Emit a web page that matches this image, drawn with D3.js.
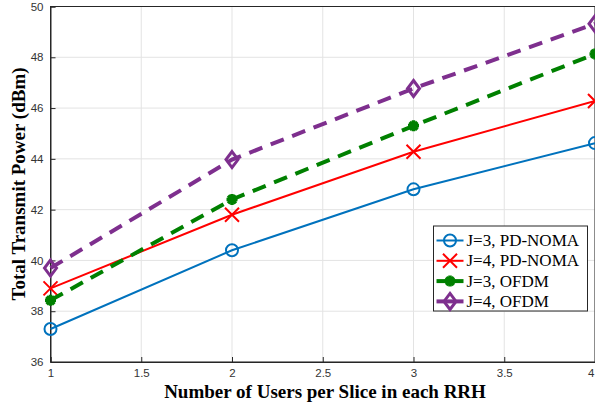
<!DOCTYPE html>
<html>
<head>
<meta charset="utf-8">
<script src="https://cdn.jsdelivr.net/npm/d3@7"></script>
<style>
  body { margin: 0; background: #fff; }
  .tick text { font-family: "Liberation Sans", Arial, sans-serif; font-size: 11.5px; fill: #333; }
  .axis-label { font-family: "Liberation Serif", "Times New Roman", serif; font-weight: bold; font-size: 19px; fill: #000; }
  .legend-text { font-family: "Liberation Serif", "Times New Roman", serif; font-size: 17px; fill: #000; }
</style>
</head>
<body>
<svg id="chart"></svg>
<script>
const users = [1, 2, 3, 4];
const noma3 = [37.3, 40.4, 42.8, 44.62];
const noma4 = [38.9, 41.8, 44.28, 46.28];
const ofdm3 = [38.43, 42.4, 45.3, 48.13];
const ofdm4 = [39.7, 43.97, 46.77, 49.32];
const seriesNames = ['J=3, PD-NOMA', 'J=4, PD-NOMA', 'J=3, OFDM', 'J=4, OFDM'];
const xTicks = [1, 1.5, 2, 2.5, 3, 3.5, 4];
const yTicks = [36, 38, 40, 42, 44, 46, 48, 50];

const series = [
  {name: seriesNames[0], values: noma3, color: '#0072BD', width: 2, dash: null, marker: 'circle'},
  {name: seriesNames[1], values: noma4, color: '#FF0000', width: 2, dash: null, marker: 'cross'},
  {name: seriesNames[2], values: ofdm3, color: '#008000', width: 4, dash: '14,9', marker: 'star'},
  {name: seriesNames[3], values: ofdm4, color: '#7E2F8E', width: 4, dash: '14,9', marker: 'diamond'}
];

const W = 595, H = 404;
const margin = {top: 6.5, right: 0, bottom: 42, left: 50.5};
const width = W - margin.left - margin.right;
const height = H - margin.top - margin.bottom;

const svg = d3.select('#chart').attr('width', W).attr('height', H);
const g = svg.append('g').attr('transform', `translate(${margin.left},${margin.top})`);

const x = d3.scaleLinear().domain([1, 4]).range([0, width]);
const y = d3.scaleLinear().domain([36, 50]).range([height, 0]);

// grid
g.append('g').selectAll('line').data(xTicks).join('line')
  .attr('x1', d => x(d)).attr('x2', d => x(d)).attr('y1', 0).attr('y2', height)
  .attr('stroke', '#e3e3e3').attr('stroke-width', 1);
g.append('g').selectAll('line').data(yTicks).join('line')
  .attr('x1', 0).attr('x2', width).attr('y1', d => y(d)).attr('y2', d => y(d))
  .attr('stroke', '#e3e3e3').attr('stroke-width', 1);

// box
g.append('rect').attr('x', 0).attr('y', 0).attr('width', width).attr('height', height)
  .attr('fill', 'none').attr('stroke', '#262626').attr('stroke-width', 1);

const xAxis = d3.axisBottom(x).tickValues(xTicks).tickSize(-5).tickPadding(7).tickFormat(d3.format('~g'));
const yAxis = d3.axisLeft(y).tickValues(yTicks).tickSize(-5).tickPadding(7);

g.append('g').attr('transform', `translate(0,${height})`).call(xAxis)
  .call(a => a.select('.domain').attr('stroke', '#262626'))
  .call(a => a.selectAll('.tick line').attr('stroke', '#262626'))
  .call(a => a.selectAll('.tick text').filter(d => d === 4).attr('text-anchor', 'end').attr('dx', -1));
g.append('g').call(yAxis)
  .call(a => a.select('.domain').attr('stroke', '#262626'))
  .call(a => a.selectAll('.tick line').attr('stroke', '#262626'));

// axis labels
svg.append('text').attr('class', 'axis-label')
  .attr('x', 325).attr('y', 398).attr('text-anchor', 'middle')
  .text('Number of Users per Slice in each RRH');
svg.append('text').attr('class', 'axis-label')
  .attr('transform', 'translate(25,184) rotate(-90)').attr('text-anchor', 'middle')
  .text('Total Transmit Power (dBm)');

const line = d3.line().x((d, i) => x(users[i])).y(d => y(d));

function drawMarker(sel, type, color) {
  if (type === 'circle') {
    sel.append('circle').attr('r', 6).attr('fill', 'none').attr('stroke', color).attr('stroke-width', 2);
  } else if (type === 'cross') {
    sel.append('path').attr('d', 'M-7,-7L7,7M-7,7L7,-7').attr('stroke', color).attr('stroke-width', 2);
  } else if (type === 'star') {
    const s = 5.5;
    let p = '';
    for (let k = 0; k < 4; k++) {
      const a = k * Math.PI / 4;
      p += `M${-s * Math.cos(a)},${-s * Math.sin(a)}L${s * Math.cos(a)},${s * Math.sin(a)}`;
    }
    sel.append('path').attr('d', p).attr('stroke', color).attr('stroke-width', 3.5);
    sel.append('circle').attr('r', 3.5).attr('fill', color);
  } else if (type === 'diamond') {
    sel.append('path').attr('d', 'M0,-8L6,0L0,8L-6,0Z').attr('fill', 'none')
      .attr('stroke', color).attr('stroke-width', 3);
  }
}

const plot = g.append('g');
series.forEach(s => {
  plot.append('path').datum(s.values)
    .attr('d', line).attr('fill', 'none')
    .attr('stroke', s.color).attr('stroke-width', s.width)
    .attr('stroke-dasharray', s.dash);
  s.values.forEach((v, i) => {
    const m = plot.append('g').attr('transform', `translate(${x(users[i])},${y(v)})`);
    drawMarker(m, s.marker, s.color);
  });
});

// legend
const lg = svg.append('g').attr('transform', 'translate(433.5,226)');
lg.append('rect').attr('width', 154).attr('height', 85)
  .attr('fill', '#fff').attr('stroke', '#262626').attr('stroke-width', 1);
series.forEach((s, i) => {
  const row = lg.append('g').attr('transform', `translate(0,${14.5 + i * 20.3})`);
  row.append('line').attr('x1', 3).attr('x2', 30).attr('y1', 0).attr('y2', 0)
    .attr('stroke', s.color).attr('stroke-width', s.width);
  const m = row.append('g').attr('transform', 'translate(16.5,0)');
  drawMarker(m, s.marker, s.color);
  row.append('text').attr('class', 'legend-text').attr('x', 33).attr('y', 5.5).text(s.name);
});
</script>
</body>
</html>
